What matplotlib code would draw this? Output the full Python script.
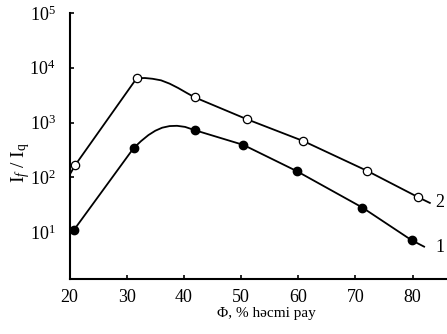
import numpy as np
import matplotlib
matplotlib.use("Agg")
from matplotlib import pyplot as plt
from matplotlib.ticker import FixedLocator, NullLocator

plt.rcParams['font.family'] = ['Liberation Serif', 'DejaVu Serif']
plt.rcParams['mathtext.fontset'] = 'custom'
plt.rcParams['mathtext.rm'] = 'Liberation Serif'
plt.rcParams['mathtext.it'] = 'Liberation Serif:italic'

# measured points (volume fraction, %) -> I_f / I_q
phi_1 = [20.8, 31.2, 41.9, 50.4, 59.7, 71.2, 79.8]
ratio_1 = [11, 340, 725, 390, 130, 28, 7.1]

phi_2 = [21.0, 31.75, 41.9, 51.0, 60.9, 72.1, 81.0]
ratio_2 = [167, 6450, 2880, 1150, 458, 130, 43]

# curves
curve1_x = [20.8, 31.2, 32.5, 33.8, 35.0, 36.2, 37.5, 38.8, 40.2, 41.9, 50.4, 59.7, 71.2, 79.8, 82.0]
curve1_y = [11, 340, 457, 590, 708, 804, 861, 871, 832, 725, 390, 130, 28, 7.1, 5.4]

curve2_x = [20.0, 21.0, 31.75, 33.2, 34.5, 36.0, 37.5, 39.0, 40.5, 41.9, 51.0, 60.9, 72.1, 81.0, 83.0]
curve2_y = [110, 167, 6450, 6500, 6300, 5900, 5130, 4270, 3470, 2880, 1150, 458, 130, 43, 34]

x_ticks = [20, 30, 40, 50, 60, 70, 80]
y_ticks = [1e1, 1e2, 1e3, 1e4, 1e5]
y_tick_labels = [r'$10^{1}$', r'$10^{2}$', r'$10^{3}$', r'$10^{4}$', r'$10^{5}$']

fig = plt.figure(figsize=(4.47, 3.34), dpi=100)
ax = fig.add_axes([0.1555, 0.1647, 0.8445, 0.7963])

ax.plot(curve1_x, curve1_y, color='black', lw=1.3, zorder=2)
ax.plot(curve2_x, curve2_y, color='black', lw=1.3, zorder=2)
ax.plot(phi_1, ratio_1, 'o', color='black', ms=6, zorder=3)
ax.plot(phi_2, ratio_2, 'o', mfc='white', mec='black', mew=0.9, ms=6, zorder=3)

ax.text(84.0, 34, '2', fontsize=13, va='center', ha='left')
ax.text(84.0, 5.3, '1', fontsize=13, va='center', ha='left')

ax.set_yscale('log')
ax.set_xlim(20, 86)
ax.set_ylim(10 ** 0.142, 1e5)

ax.xaxis.set_major_locator(FixedLocator(x_ticks))
ax.yaxis.set_major_locator(FixedLocator(y_ticks))
ax.yaxis.set_minor_locator(NullLocator())
ax.set_yticklabels(y_tick_labels)

ax.tick_params(axis='both', direction='in', length=3, width=1.2, labelsize=13)
ax.tick_params(axis='y', pad=10)
ax.tick_params(axis='x', pad=7)

for s in ['top', 'right']:
    ax.spines[s].set_visible(False)
for s in ['left', 'bottom']:
    ax.spines[s].set_linewidth(1.5)

ax.set_xlabel('Φ, % həcmi pay', fontsize=11)
ax.xaxis.set_label_coords(0.522, -0.105)
ax.set_ylabel(r'$\mathrm{I}_{f}\ /\ \mathrm{I}_{\mathrm{q}}$', fontsize=14)
ax.yaxis.set_label_coords(-0.10, 0.436)

fig.savefig('out.png', dpi=100)
